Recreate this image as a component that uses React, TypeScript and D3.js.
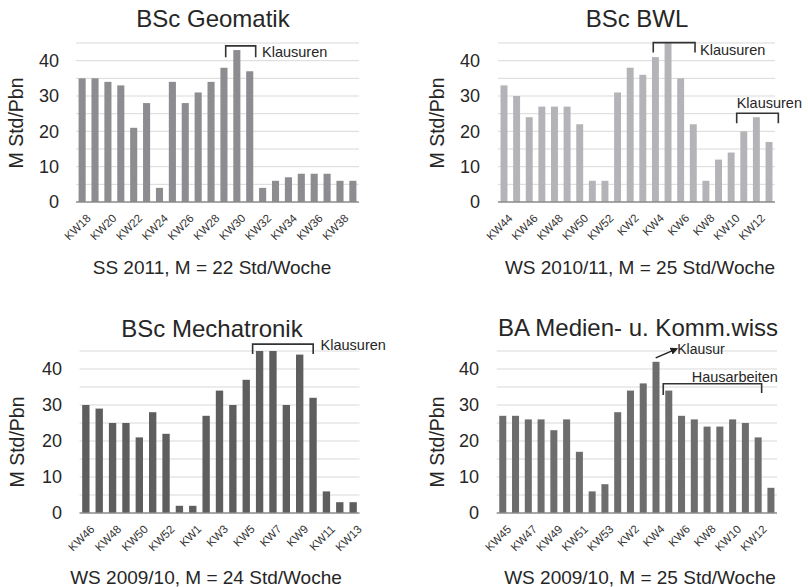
import React from "react";
import * as d3 from "d3";

// ---------- data ----------
const geoWeeks = ["KW18","KW19","KW20","KW21","KW22","KW23","KW24","KW25","KW26","KW27","KW28","KW29","KW30","KW31","KW32","KW33","KW34","KW35","KW36","KW37","KW38","KW39"];
const geoValues = [35,35,34,33,21,28,4,34,28,31,34,38,43,37,4,6,7,8,8,8,6,6];

const bwlWeeks = ["KW44","KW45","KW46","KW47","KW48","KW49","KW50","KW51","KW52","KW1","KW2","KW3","KW4","KW5","KW6","KW7","KW8","KW9","KW10","KW11","KW12","KW13"];
const bwlValues = [33,30,24,27,27,27,22,6,6,31,38,36,41,45,35,22,6,12,14,20,24,17];

const mechWeeks = ["KW46","KW47","KW48","KW49","KW50","KW51","KW52","KW53","KW1","KW2","KW3","KW4","KW5","KW6","KW7","KW8","KW9","KW10","KW11","KW12","KW13"];
const mechValues = [30,29,25,25,21,28,22,2,2,27,34,30,37,45,45,30,44,32,6,3,3];

const medWeeks = ["KW45","KW46","KW47","KW48","KW49","KW50","KW51","KW52","KW53","KW1","KW2","KW3","KW4","KW5","KW6","KW7","KW8","KW9","KW10","KW11","KW12","KW13"];
const medValues = [27,27,26,26,23,26,17,6,8,28,34,36,42,34,27,26,24,24,26,25,21,7];

const yTicks = [0, 10, 20, 30, 40];
const gridValues = [5, 10, 15, 20, 25, 30, 35, 40, 45];
const yMax = 45;

const titles = ["BSc Geomatik", "BSc BWL", "BSc Mechatronik", "BA Medien- u. Komm.wiss"];
const subtitles = [
  "SS 2011, M = 22 Std/Woche",
  "WS 2010/11, M = 25 Std/Woche",
  "WS 2009/10, M = 24 Std/Woche",
  "WS 2009/10, M = 25 Std/Woche",
];
const yAxisTitle = "M Std/Pbn";

// ---------- layout ----------
type Bracket = { i1: number; o1: number; i2: number; o2: number; top: number; bottom: number; bottom2?: number };
type Note = { text: string; i: number; o: number; v: number; size: number };
type Arrow = { i: number; o1: number; v1: number; o2: number; v2: number };

type PanelCfg = {
  weeks: string[];
  values: number[];
  color: string;
  x0: number; x1: number; base: number; top: number;
  tickX: number; yLabX: number; yLabY: number;
  titleX: number; titleY: number;
  subX: number; subY: number;
  title: string; subtitle: string;
  brackets: Bracket[];
  notes: Note[];
  arrows: Arrow[];
};

const panels: PanelCfg[] = [
  {
    weeks: geoWeeks, values: geoValues, color: "#8d8d91",
    x0: 76, x1: 359, base: 202, top: 43,
    tickX: 59, yLabX: 16, yLabY: 123,
    titleX: 213, titleY: 27, subX: 212, subY: 273.5,
    title: titles[0], subtitle: subtitles[0],
    brackets: [{ i1: 11, o1: 5.3, i2: 13, o2: 9.5, top: 44.2, bottom: 41.0 }],
    notes: [{ text: "Klausuren", i: 13, o: 15.8, v: 42.5, size: 14.5 }],
    arrows: [],
  },
  {
    weeks: bwlWeeks, values: bwlValues, color: "#b4b4b8",
    x0: 498, x1: 775, base: 202, top: 43,
    tickX: 480, yLabX: 437, yLabY: 123,
    titleX: 637, titleY: 27, subX: 640, subY: 273.5,
    title: titles[1], subtitle: subtitles[1],
    brackets: [
      { i1: 12, o1: 1.3, i2: 15, o2: 5.2, top: 45.1, bottom: 42.3 },
      { i1: 19, o1: -3.6, i2: 21, o2: 12.8, top: 25.1, bottom: 22.3 },
    ],
    notes: [
      { text: "Klausuren", i: 15, o: 10.2, v: 42.9, size: 14.5 },
      { text: "Klausuren", i: 19, o: -3.6, v: 28.0, size: 14.5 },
    ],
    arrows: [],
  },
  {
    weeks: mechWeeks, values: mechValues, color: "#5e5e5e",
    x0: 79.5, x1: 359.5, base: 513, top: 351,
    tickX: 62, yLabX: 17, yLabY: 442,
    titleX: 212, titleY: 336.6, subX: 206, subY: 583.5,
    title: titles[2], subtitle: subtitles[2],
    brackets: [{ i1: 13, o1: -3.3, i2: 17, o2: 3.8, top: 46.9, bottom: 44.2 }],
    notes: [{ text: "Klausuren", i: 17, o: 11.2, v: 46.7, size: 14.5 }],
    arrows: [],
  },
  {
    weeks: medWeeks, values: medValues, color: "#6d6d6d",
    x0: 496.7, x1: 777, base: 513, top: 351,
    tickX: 479, yLabX: 437, yLabY: 442,
    titleX: 638, titleY: 335.8, subX: 640, subY: 583.5,
    title: titles[3], subtitle: subtitles[3],
    brackets: [{ i1: 13, o1: -2, i2: 20, o2: 7, top: 35.9, bottom: 32.8, bottom2: 33.3 }],
    notes: [
      { text: "Klausur", i: 12, o: 24.8, v: 45.6, size: 14 },
      { text: "Hausarbeiten", i: 13, o: 26.4, v: 37.9, size: 14.5 },
    ],
    arrows: [{ i: 12, o1: 3.2, v1: 43.1, o2: 24.2, v2: 45.6 }],
  },
];

const FONT = "'Liberation Sans', Arial, Helvetica, sans-serif";
const TEXT = "#262626";

function Panel({ cfg, idx }: { cfg: PanelCfg; idx: number }) {
  const x = d3
    .scaleBand<string>()
    .domain(cfg.weeks)
    .range([cfg.x0, cfg.x1])
    .paddingInner(0.45)
    .paddingOuter(0.2);
  const y = d3.scaleLinear().domain([0, yMax]).range([cfg.base, cfg.top]);
  const bw = x.bandwidth();
  const left = (i: number) => x(cfg.weeks[i]) as number;

  return (
    <g>
      {gridValues.map((g) => (
        <line key={g} x1={cfg.x0} x2={cfg.x1} y1={y(g)} y2={y(g)} stroke="#d9d9d9" strokeWidth={1} />
      ))}
      {cfg.values.map((v, i) => (
        <rect key={i} x={left(i)} y={y(v)} width={bw} height={y(0) - y(v)} fill={cfg.color} />
      ))}
      <line x1={cfg.x0} x2={cfg.x1} y1={y(0)} y2={y(0)} stroke="#8a8a8a" strokeWidth={1.3} />
      {yTicks.map((t) => (
        <text key={t} x={cfg.tickX} y={y(t)} dy="0.35em" textAnchor="end" fontSize={18} fill={TEXT} fontFamily={FONT}>
          {t}
        </text>
      ))}
      {cfg.weeks.map((w, i) =>
        i % 2 === 0 ? (
          <text
            key={w}
            transform={`translate(${left(i) + bw / 2 + 6.5},${cfg.base + 14}) rotate(-45)`}
            textAnchor="end"
            dy="0.35em"
            fontSize={11.5}
            fill="#333"
            fontFamily={FONT}
          >
            {w}
          </text>
        ) : null
      )}
      <text
        transform={`translate(${cfg.yLabX},${cfg.yLabY}) rotate(-90)`}
        textAnchor="middle"
        dy="0.35em"
        fontSize={19.5}
        fill={TEXT}
        fontFamily={FONT}
      >
        {yAxisTitle}
      </text>
      <text x={cfg.titleX} y={cfg.titleY} textAnchor="middle" fontSize={24} fill={TEXT} fontFamily={FONT}>
        {cfg.title}
      </text>
      <text x={cfg.subX} y={cfg.subY} textAnchor="middle" fontSize={19} fill={TEXT} fontFamily={FONT}>
        {cfg.subtitle}
      </text>
      {cfg.brackets.map((b, k) => {
        const xa = left(b.i1) + b.o1;
        const xb = left(b.i2) + b.o2;
        const p = d3.path();
        p.moveTo(xa, y(b.bottom));
        p.lineTo(xa, y(b.top));
        p.lineTo(xb, y(b.top));
        p.lineTo(xb, y(b.bottom2 ?? b.bottom));
        return <path key={k} d={p.toString()} fill="none" stroke="#333" strokeWidth={1.6} />;
      })}
      {cfg.arrows.length > 0 && (
        <defs>
          <marker id={`arrowhead${idx}`} viewBox="0 0 10 10" refX="8" refY="5" markerWidth="5" markerHeight="5" orient="auto">
            <path d="M0,0 L10,5 L0,10 Z" fill="#222" />
          </marker>
        </defs>
      )}
      {cfg.arrows.map((a, k) => (
        <line
          key={k}
          x1={left(a.i) + a.o1}
          y1={y(a.v1)}
          x2={left(a.i) + a.o2}
          y2={y(a.v2)}
          stroke="#222"
          strokeWidth={1.5}
          markerEnd={`url(#arrowhead${idx})`}
        />
      ))}
      {cfg.notes.map((n, k) => (
        <text key={k} x={left(n.i) + n.o} y={y(n.v)} dy="0.35em" fontSize={n.size} fill={TEXT} fontFamily={FONT}>
          {n.text}
        </text>
      ))}
    </g>
  );
}

export default function App() {
  return (
    <svg
      width={808}
      height={587}
      viewBox="0 0 808 587"
      style={{ position: "absolute", left: 0, top: 0, background: "#fff", display: "block" }}
    >
      <rect width={808} height={587} fill="#fff" />
      {panels.map((p, i) => (
        <Panel key={i} cfg={p} idx={i} />
      ))}
    </svg>
  );
}
